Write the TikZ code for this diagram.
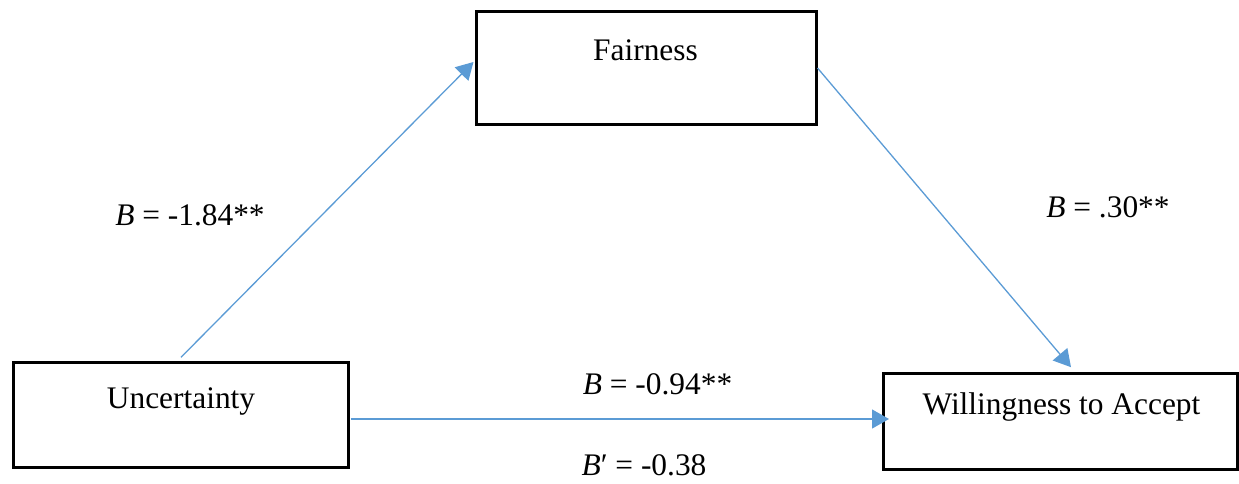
\documentclass[tikz,border=0pt]{standalone}
\usepackage{fontspec}
\setmainfont{Liberation Serif}
\usetikzlibrary{arrows.meta,calc}
\definecolor{arrowblue}{RGB}{91,155,213}
\tikzset{
  box/.style={draw=black, line width=2.8pt, rectangle, inner sep=0pt, outer sep=0pt},
  lbl/.style={anchor=base, inner sep=0pt, font=\fontsize{31.4}{36}\selectfont},
  link/.style={draw=arrowblue, line width=1.3pt, -{Triangle[length=17pt,width=19pt]}}
}
\begin{document}
\begin{tikzpicture}[x=1pt,y=-1pt]
\useasboundingbox (0,0) rectangle (1239,484);
% boxes
\node[box, minimum width=340pt, minimum height=113.4pt] (fair) at (646.5,68) {};
\node[box, minimum width=335pt, minimum height=105pt] (unc) at (181,414.8) {};
\node[box, minimum width=354pt, minimum height=96pt] (will) at (1060.5,421.7) {};
% box texts
\node[lbl] (fairt) at (645.5,61) {Fairness};
\node[lbl] (unct) at (181,408) {Uncertainty};
\node[lbl] (willt) at (1061.5,414) {Willingness to Accept};
% connectors
\coordinate (a1s) at ($(unc.north)+(0,-5)$);
\coordinate (a1e) at ($(fair.west)+(-3,-6)$);
\draw[link] (a1s) -- (a1e);
\coordinate (a2s) at ($(fair.east)+(1,0)$);
\coordinate (a2e) at ($(will.north)+(10.5,-6.5)$);
\draw[link] (a2s) -- (a2e);
\coordinate (a3s) at ($(unc.east)+(2,4.2)$);
\coordinate (a3e) at ($(will.west)+(5.5,-2.7)$);
\draw[link] (a3s) -- (a3e);
% path labels
\node[lbl] (l1) at (190,225) {\textit{B} = -1.84**};
\node[lbl] (l2) at (1108,217) {\textit{B} = .30**};
\node[lbl] (l3) at (657.5,394) {\textit{B} = -0.94**};
\node[lbl] (l4) at (644,475) {\textit{B}′ = -0.38};
\end{tikzpicture}
\end{document}
